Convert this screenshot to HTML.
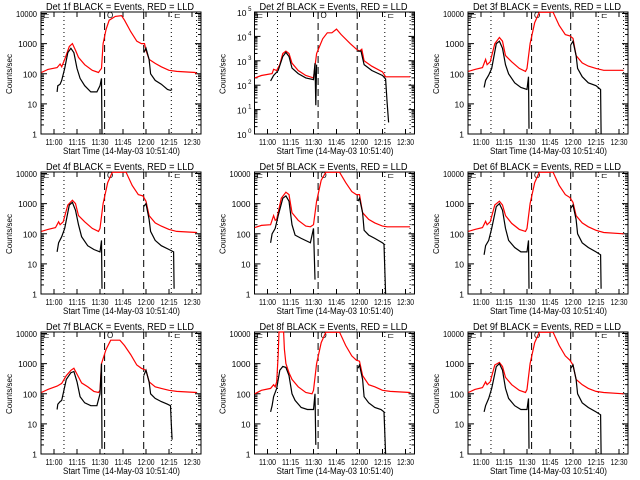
<!DOCTYPE html>
<html><head><meta charset="utf-8"><style>
html,body{margin:0;padding:0;background:#fff;}
svg{display:block;}
text{font-family:"Liberation Sans",sans-serif;fill:#000;}
</style></head><body>
<svg id="chart" width="640" height="480" viewBox="0 0 640 480" xmlns="http://www.w3.org/2000/svg"></svg>
<script>
// Data: times in minutes after 11:00, values in counts/sec
const detNames = ["1f","2f","3f","4f","5f","6f","7f","8f","9f"];
const xTickLabels = ["11:00","11:15","11:30","11:45","12:00","12:15","12:30"];
const xTickMinutes = [0,15,30,45,60,75,90];
const yTickValues = [1,10,100,1000,10000];
const yTickLabels = ["1","10","100","1000","10000"];
const yTickValuesExp = [1,10,100,1000,10000,100000];
const yTickLabelsExp = ["0","1","2","3","4","5"];
const yMaxLog = [4.05,5,4.05,4.05,4.05,4.05,4.05,4.05,4.05];
const markerMinutes = [6.5,33,58.5,76.5,93];
const markerStyles = ["dot","dash","dash","dot","dot"];
const red1 = [[-8.3,110],[-4,140],[2,160],[4,210],[5,170],[7,300],[10,800],[12,1000],[14,600],[16,350],[20,200],[25,130],[29,110],[30,130],[31,150],[32,1000],[34,3000],[36,6000],[40,8000],[44,8500],[46,6000],[50,2500],[54,1200],[57,1000],[59,1000],[60,600],[62,300],[66,220],[70,170],[75,130],[80,120],[92,110],[93,100]];
const blk1a = [[2,25],[2.5,40],[4,45],[5,60],[7,150],[9,500],[11,700],[13,500],[15,150],[17,70],[20,40],[24,25],[28,25],[30,40],[31,70],[31.3,1]];
const blk1b = [[58.5,500],[60,700],[62,300],[63,100],[66,60],[70,45],[74,30],[76,28],[77,30]];
const red2 = [[-8.3,200],[-4,250],[3,300],[4,450],[6,400],[8,700],[10,2000],[12,2500],[14,2000],[16,800],[20,400],[25,250],[30,200],[31,600],[32,2000],[36,8000],[39,14000],[42,14000],[45,20000],[48,12000],[54,5000],[58,3000],[60,2500],[61.5,3000],[63,1000],[68,600],[75,350],[77,220],[93,220]];
const blk2a = [[2,150],[4,250],[7,400],[10,1500],[12,2200],[14,1500],[16,500],[20,300],[25,200],[30,170],[31,800],[31.5,15],[32,700]];
const blk2b = [[59,2500],[61,2500],[63,700],[68,400],[75,250],[77,180],[78,20],[79,3]];
const red3 = [[-8.3,120],[-4,140],[1,160],[3,300],[4,200],[6,250],[9,1000],[12,1600],[14,1200],[16,400],[20,250],[25,150],[29,120],[30,150],[32,1000],[35,5000],[38,11000],[47,11000],[51,4000],[55,2000],[58,1800],[60,1500],[62,400],[66,230],[70,180],[75,150],[80,130],[92,130],[93,130]];
const blk3a = [[2,35],[3,60],[5,90],[7,150],[10,1000],[12,1200],[14,700],[16,200],[18,100],[22,50],[26,35],[30,30],[31,80],[31.3,1.5]];
const blk3b = [[58.5,900],[60,1200],[62,400],[63,150],[66,80],[70,50],[75,40],[78,30],[78.3,1]];
const red4 = [[-8.3,120],[-4,140],[1,160],[3,250],[4,200],[6,250],[9,900],[12,1300],[14,1000],[16,400],[20,250],[25,150],[29,120],[30,150],[32,1000],[35,5000],[38,11000],[47,11000],[51,4000],[55,2000],[58,1800],[60,1200],[62,400],[66,230],[70,180],[75,140],[80,120],[93,110]];
const blk4a = [[2,25],[3,50],[5,80],[7,150],[10,900],[12,1100],[14,600],[16,200],[18,80],[22,40],[26,30],[30,25],[31,60],[31.3,1.5]];
const blk4b = [[58.5,800],[60,1000],[62,300],[63,120],[66,60],[70,40],[75,30],[78,25],[78.3,1.5]];
const red5 = [[-8.3,160],[-4,190],[2,200],[4,400],[5,280],[6,300],[9,1500],[12,2400],[14,2000],[16,500],[20,280],[25,180],[28,170],[30,200],[32,1200],[35,6000],[38,11000],[47,11000],[51,5000],[55,2500],[58,2000],[60,2000],[62,500],[66,300],[70,230],[75,180],[78,170],[93,170]];
const blk5a = [[2,50],[3,100],[5,150],[7,400],[10,1500],[12,1800],[14,1200],[16,200],[18,90],[22,70],[28,50],[30,150],[31,3]];
const blk5b = [[59,1200],[60,1500],[62,500],[63,130],[66,90],[70,70],[75,50],[76,45],[77,1]];
const red6 = [[-8.3,120],[-4,140],[1,160],[3,260],[4,200],[6,250],[9,900],[12,1200],[14,900],[16,400],[20,220],[25,140],[29,120],[30,150],[32,1000],[35,5000],[38,11000],[47,11000],[51,4000],[55,2000],[58,1600],[60,1100],[62,400],[66,230],[70,170],[75,130],[80,110],[93,100]];
const blk6a = [[2,20],[3,40],[5,60],[7,150],[10,800],[12,1000],[14,600],[16,150],[18,60],[22,35],[26,25],[30,25],[31,60],[31.3,1.5]];
const blk6b = [[58.5,700],[60,900],[62,300],[63,100],[66,50],[70,35],[75,25],[78,20],[78.3,1.5]];
const red7 = [[-8.3,110],[-4,140],[2,180],[5,220],[8,400],[11,600],[13,700],[15,450],[18,230],[22,170],[26,120],[29,110],[30,130],[31,1000],[34,3000],[37,6000],[43,6000],[46,4000],[50,2000],[54,900],[57,700],[60,600],[62,250],[66,170],[70,150],[75,130],[80,120],[93,110]];
const blk7a = [[2,30],[2.5,45],[4,55],[5,60],[8,300],[11,500],[13,550],[15,250],[17,80],[20,50],[24,40],[28,40],[30,100],[31,1000],[31.3,1.5]];
const blk7b = [[58.5,400],[60,600],[62,250],[63,100],[66,70],[70,55],[74,45],[76,40],[76.5,10],[77,3]];
const red8 = [[-8.3,100],[-4,130],[2,150],[4,200],[5,170],[6,250],[7,2000],[7.5,12000],[10.5,12000],[11,3000],[12,1000],[14,500],[16,300],[20,170],[25,110],[29,100],[30,130],[32,1000],[35,5000],[38,11000],[47,11000],[51,4000],[55,1800],[58,1300],[60,1200],[62,400],[66,200],[70,170],[75,130],[80,120],[93,110]];
const blk8a = [[2,25],[3,40],[4,80],[6,150],[8,600],[10,800],[12,750],[14,400],[16,100],[18,60],[22,35],[26,30],[30,30],[31,100],[31.5,2]];
const blk8b = [[59,700],[60,900],[62,300],[63,80],[66,50],[70,35],[74,30],[76,25],[77,1]];
const red9 = [[-8.3,110],[-4,140],[1,160],[3,250],[4,200],[6,250],[9,900],[12,1100],[14,800],[16,350],[20,200],[25,130],[29,110],[30,140],[32,1000],[35,5000],[38,11000],[47,11000],[51,4000],[55,1800],[58,1300],[60,900],[62,300],[66,200],[70,150],[75,120],[80,110],[93,100]];
const blk9a = [[2,25],[3,40],[5,70],[7,150],[10,800],[12,1000],[14,600],[16,150],[18,70],[22,40],[26,30],[30,30],[31,70],[31.3,1.5]];
const blk9b = [[58.5,700],[60,900],[62,300],[63,100],[66,50],[70,35],[75,25],[78,20],[78.3,1]];

const redSeries = [red1,red2,red3,red4,red5,red6,red7,red8,red9];
const blackSeries = [[blk1a,blk1b],[blk2a,blk2b],[blk3a,blk3b],[blk4a,blk4b],[blk5a,blk5b],[blk6a,blk6b],[blk7a,blk7b],[blk8a,blk8b],[blk9a,blk9b]];

const NS="http://www.w3.org/2000/svg";
const svg=document.getElementById('chart');
function mk(tag,attrs,parent){const e=document.createElementNS(NS,tag);for(const k in attrs)e.setAttribute(k,attrs[k]);parent.appendChild(e);return e;}
const L=41,R=201,T=12,B=134;
function xs(m){return 54+m*23/15;}
function ysFor(yMax){return function(v){const lv=Math.max(0,Math.min(yMax,Math.log10(v)));return B-lv/yMax*(B-T);};}

for(let p=0;p<9;p++){
  const ox=(p%3)*213.5, oy=Math.floor(p/3)*160;
  const ys=ysFor(yMaxLog[p]);
  const g=mk('g',{transform:`translate(${ox},${oy})`},svg);
  
  
  const title=mk('text',{x:46,y:10,'font-size':'10',textLength:148,lengthAdjust:'spacingAndGlyphs'},g);
  title.textContent='Det '+detNames[p]+' BLACK = Events, RED = LLD';
  
  
  const ylab=mk('text',{x:0,y:0,'font-size':'8','text-anchor':'middle',transform:'translate(12,74) rotate(-90)'},g);
  ylab.textContent='Counts/sec';
  
  
  const xlab=mk('text',{x:63,y:154,'font-size':'9',textLength:117,lengthAdjust:'spacingAndGlyphs'},g);
  xlab.textContent='Start Time (14-May-03 10:51:40)';
  
  
  const fr=mk('rect',{x:L,y:T,width:R-L,height:B-T,fill:'none',stroke:'#000','stroke-width':1},g);
  
  
  const vals = p===1 ? yTickValuesExp : yTickValues;
  for(let d=0;d<vals.length;d++){
    const yy=ys(vals[d]);
    mk('line',{x1:L,x2:L+6,y1:yy,y2:yy,stroke:'#000'},g);
    mk('line',{x1:R-6,x2:R,y1:yy,y2:yy,stroke:'#000'},g);
    for(let k=2;k<=9&&d<vals.length-1;k++){const my=ys(vals[d]*k);mk('line',{x1:L,x2:L+3,y1:my,y2:my,stroke:'#000'},g);mk('line',{x1:R-3,x2:R,y1:my,y2:my,stroke:'#000'},g);}
    let t;
    if(p===1){
      t=mk('text',{x:33,y:yy+4,'font-size':'8.5','text-anchor':'end'},g);t.textContent='10';
      const s=mk('text',{x:38,y:yy-1,'font-size':'6','text-anchor':'end'},g);s.textContent=yTickLabelsExp[d];
    } else {
      t=mk('text',{x:37,y:yy+3.5,'font-size':'8.5','text-anchor':'end'},g);t.textContent=yTickLabels[d];
      if(d===4){t.setAttribute('textLength','21');t.setAttribute('lengthAdjust','spacingAndGlyphs');}
    }
    
    
  }
  for(let i=0;i<xTickMinutes.length;i++){
    const xx=xs(xTickMinutes[i]);
    mk('line',{x1:xx,x2:xx,y1:B,y2:B-5,stroke:'#000'},g);
    mk('line',{x1:xx,x2:xx,y1:T,y2:T+5,stroke:'#000'},g);
    const t=mk('text',{x:xx-8.5,y:145,'font-size':'8.5',textLength:17,lengthAdjust:'spacingAndGlyphs'},g);
    t.textContent=xTickLabels[i];
    
    
  }
  for(let i=0;i<markerMinutes.length;i++){
    const xx=xs(markerMinutes[i]);
    const ln=mk('line',{x1:xx,x2:xx,y1:T,y2:B,stroke:'#000','stroke-width':1,'stroke-dasharray':markerStyles[i]==='dot'?'1,3':'7,4'},g);
    
    
  }
  const labs=[['⊏',43],['O',107],['⊏',174]];
  for(const [c,x] of labs){const t=mk('text',{x:x,y:T+6,'font-size':'8'},g);t.textContent=c;}
  const rp=redSeries[p].map(d=>xs(d[0]).toFixed(1)+','+ys(d[1]).toFixed(1)).join(' ');
  const rl=mk('polyline',{points:rp,fill:'none',stroke:'#ff0000','stroke-width':1.2},g);
  
  
  for(const seg of blackSeries[p]){
    const bp=seg.map(d=>xs(d[0]).toFixed(1)+','+ys(d[1]).toFixed(1)).join(' ');
    const bl=mk('polyline',{points:bp,fill:'none',stroke:'#000','stroke-width':1.2},g);
    
    
  }
}
</script>
</body></html>
